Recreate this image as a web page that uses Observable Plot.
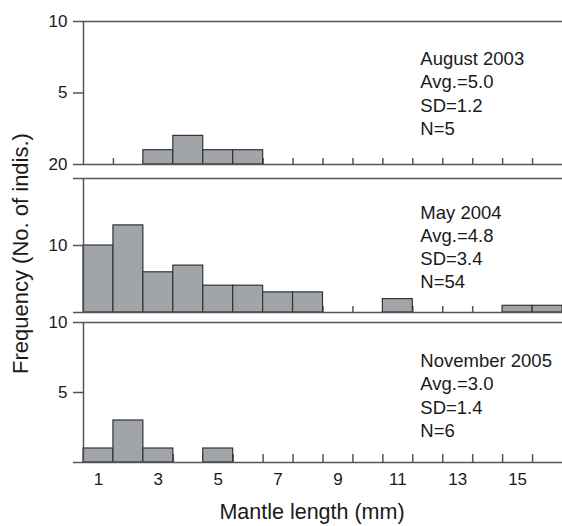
<!DOCTYPE html>
<html>
<head>
<meta charset="utf-8">
<script src="https://cdn.jsdelivr.net/npm/d3@7"></script>
<script src="https://cdn.jsdelivr.net/npm/@observablehq/plot@0.6"></script>
<style>
  html, body { margin: 0; padding: 0; background: #fff; }
  #chart { position: relative; width: 562px; height: 526px; overflow: hidden; font-family: "Liberation Sans", Arial, sans-serif; }
  #chart svg.panel { position: absolute; left: 0; overflow: visible; }
</style>
</head>
<body>
<div id="chart"></div>
<script>
// ---- data ----
const bins = [1, 2, 3, 4, 5, 6, 7, 8, 9, 10, 11, 12, 13, 14, 15, 16];
const countsAug2003 = [0, 0, 1, 2, 1, 1, 0, 0, 0, 0, 0, 0, 0, 0, 0, 0];
const countsMay2004 = [10, 13, 6, 7, 4, 4, 3, 3, 0, 0, 2, 0, 0, 0, 1, 1];
const countsNov2005 = [1, 3, 1, 0, 1, 0, 0, 0, 0, 0, 0, 0, 0, 0, 0, 0];
const statsAug2003 = ["August 2003", "Avg.=5.0", "SD=1.2", "N=5"];
const statsMay2004 = ["May 2004", "Avg.=4.8", "SD=3.4", "N=54"];
const statsNov2005 = ["November 2005", "Avg.=3.0", "SD=1.4", "N=6"];
const yTicksTop = [0, 5, 10], yLabelsTop = ["20", "5", "10"];
const yTicksMid = [0, 10, 20], yLabelsMid = ["", "10", ""];
const yTicksBot = [0, 5, 10], yLabelsBot = ["", "5", "10"];
const xTickLabels = [1, 3, 5, 7, 9, 11, 13, 15];
const binEdges = [1.5, 2.5, 3.5, 4.5, 5.5, 6.5, 7.5, 8.5, 9.5, 10.5, 11.5, 12.5, 13.5, 14.5, 15.5];
const xTitle = "Mantle length (mm)";
const yTitle = "Frequency (No. of indis.)";

const FONT = '"Liberation Sans", Arial, sans-serif';
const LINE = "#555";
const chart = document.getElementById("chart");

function panel({counts, stats, yMax, yTicks, yLabels, top, marginTop, frameH, marginBottom, tickLen, textDy, showX}) {
  const data = bins.map((b, i) => ({bin: b, count: counts[i]})).filter(d => d.count > 0);
  const marks = [
    Plot.tickX(binEdges, {x: d => d, insetTop: frameH - tickLen, stroke: LINE, strokeWidth: 1.5}),
    Plot.rectY(data, {x1: d => d.bin - 0.5, x2: d => d.bin + 0.5, y1: 0, y2: "count", fill: "#a1a5a9", stroke: "#333", strokeWidth: 1.2}),
    Plot.ruleY([0, yMax], {stroke: LINE, strokeWidth: 1.5}),
    Plot.ruleX([0.5], {stroke: LINE, strokeWidth: 1.5}),
    Plot.axisY(yTicks, {tickSize: 10, tickPadding: 6, stroke: LINE, strokeWidth: 1.5, fontSize: 17, fill: "#1a1a1a",
      tickFormat: d => yLabels[yTicks.indexOf(d)], label: null}),
    Plot.text([stats.join("\n")], {x: () => 11.75, frameAnchor: "top", textAnchor: "start", lineAnchor: "top",
      dy: textDy, lineHeight: 1.26, fontSize: 18.5, fill: "#1a1a1a"})
  ];
  if (showX) {
    marks.push(Plot.axisX(xTickLabels, {tickSize: 0, tickPadding: 10, fontSize: 17, fill: "#1a1a1a", label: null}));
  } else {
    marks.push(Plot.axisX([], {label: null}));
  }
  const svg = Plot.plot({
    width: 562,
    height: marginTop + frameH + marginBottom,
    marginTop, marginBottom,
    marginLeft: 83, marginRight: 0,
    style: {fontFamily: FONT, background: "transparent", overflow: "visible"},
    x: {domain: [0.5, 16.5]},
    y: {domain: [0, yMax]},
    marks
  });
  svg.classList.add("panel");
  svg.style.top = top + "px";
  chart.appendChild(svg);
}

panel({counts: countsAug2003, stats: statsAug2003, yMax: 10, yTicks: yTicksTop, yLabels: yLabelsTop,
  top: 0, marginTop: 21, frameH: 143, marginBottom: 6, tickLen: 6, textDy: 27});
panel({counts: countsMay2004, stats: statsMay2004, yMax: 20, yTicks: yTicksMid, yLabels: yLabelsMid,
  top: 170, marginTop: 8, frameH: 134, marginBottom: 4, tickLen: 6, textDy: 23.5});
panel({counts: countsNov2005, stats: statsNov2005, yMax: 10, yTicks: yTicksBot, yLabels: yLabelsBot,
  top: 316, marginTop: 6, frameH: 140, marginBottom: 40, tickLen: 8, textDy: 28, showX: true});

// axis titles
const overlay = d3.select(chart).append("svg")
  .attr("width", 562).attr("height", 526)
  .style("position", "absolute").style("left", 0).style("top", 0)
  .style("pointer-events", "none");
overlay.append("text")
  .attr("x", 312).attr("y", 519)
  .attr("text-anchor", "middle")
  .attr("font-family", FONT).attr("font-size", 21.5).attr("fill", "#1a1a1a")
  .text(xTitle);
overlay.append("text")
  .attr("transform", "translate(28,253.5) rotate(-90)")
  .attr("text-anchor", "middle")
  .attr("font-family", FONT).attr("font-size", 22).attr("fill", "#1a1a1a")
  .text(yTitle);
</script>
</body>
</html>
